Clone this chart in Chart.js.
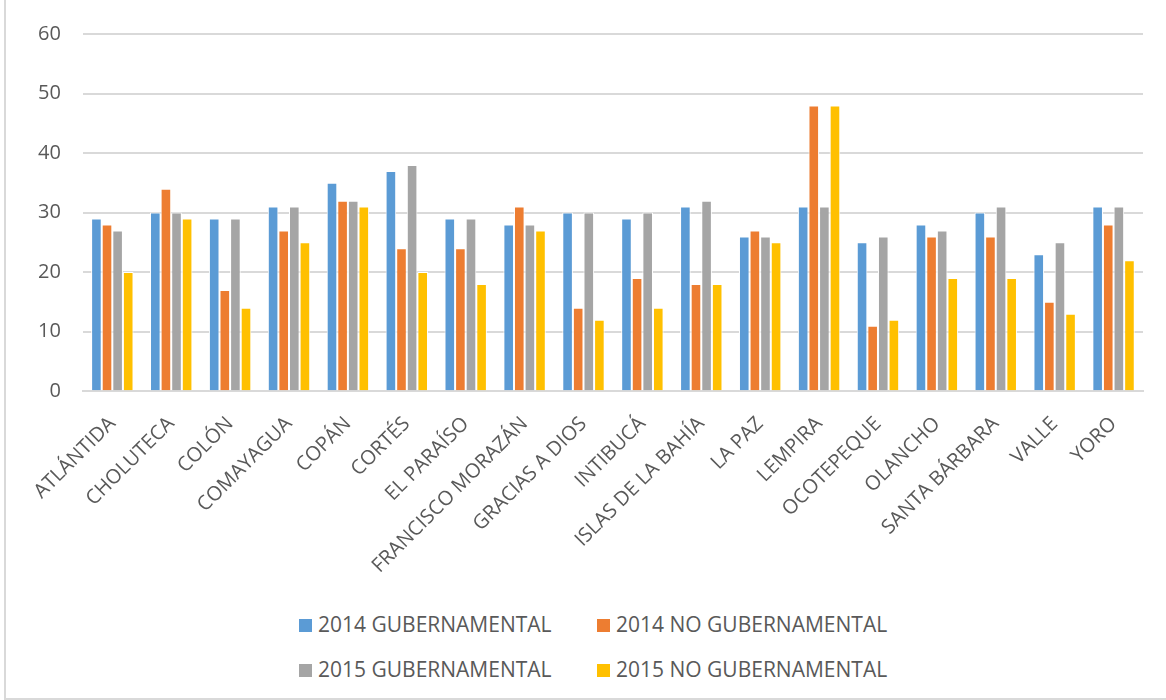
<!DOCTYPE html>
<html lang="es">
<head>
<meta charset="utf-8">
<title>Gubernamental / No gubernamental por departamento</title>
<script src="https://cdn.jsdelivr.net/npm/chart.js@4/dist/chart.umd.min.js"></script>
<style>
    html, body { margin: 0; padding: 0; background: #fff; }
    .chart-box {
        position: absolute;
        left: 4px;
        top: 0;
        width: 1160px;
        height: 698px;
        border-left: 2px solid #d9d9d9;
        border-bottom: 2px solid #d9d9d9;
        font-family: "Open Sans", sans-serif;
    }
    .chart-container { position: absolute; left: 0; top: 0; width: 1160px; height: 599px; }
    .legend {
        position: absolute;
        left: 293px;
        top: 609px;
        display: grid;
        grid-template-columns: 298px 340px;
        row-gap: 15px;
        color: #595959;
        font-size: 21px;
        line-height: 30px;
        white-space: nowrap;
    }
    .legend span.box {
        display: inline-block;
        width: 13px;
        height: 13px;
        margin-right: 6px;
        vertical-align: 0px;
    }
</style>
</head>
<body>
<div class="chart-box">
    <div class="chart-container"><canvas id="grafico"></canvas></div>
    <div class="legend" id="leyenda"></div>
</div>
<script>
// Departamentos
const departamentos = [
    'ATLÁNTIDA', 'CHOLUTECA', 'COLÓN', 'COMAYAGUA', 'COPÁN', 'CORTÉS',
    'EL PARAÍSO', 'FRANCISCO MORAZÁN', 'GRACIAS A DIOS', 'INTIBUCÁ',
    'ISLAS DE LA BAHÍA', 'LA PAZ', 'LEMPIRA', 'OCOTEPEQUE', 'OLANCHO',
    'SANTA BÁRBARA', 'VALLE', 'YORO'
];

// Series
const gub2014   = [29, 30, 29, 31, 35, 37, 29, 28, 30, 29, 31, 26, 31, 25, 28, 30, 23, 31];
const noGub2014 = [28, 34, 17, 27, 32, 24, 24, 31, 14, 19, 18, 27, 48, 11, 26, 26, 15, 28];
const gub2015   = [27, 30, 29, 31, 32, 38, 29, 28, 30, 30, 32, 26, 31, 26, 27, 31, 25, 31];
const noGub2015 = [20, 29, 14, 25, 31, 20, 18, 27, 12, 14, 18, 25, 48, 12, 19, 19, 13, 22];

const nombresSeries = ['2014 GUBERNAMENTAL', '2014 NO GUBERNAMENTAL', '2015 GUBERNAMENTAL', '2015 NO GUBERNAMENTAL'];
const coloresSeries = ['#5b9bd5', '#ed7d31', '#a5a5a5', '#ffc000'];

// Eje Y
const ejeMin = 0;
const ejeMax = 60;
const ejePaso = 10;

const valores = [gub2014, noGub2014, gub2015, noGub2015];

const datasets = valores.map((serie, i) => ({
    label: nombresSeries[i],
    data: serie,
    backgroundColor: coloresSeries[i],
    borderColor: '#ffffff',
    borderWidth: 1,
    borderSkipped: 'bottom',
    barPercentage: 1,
    categoryPercentage: 0.72
}));

const grafico = new Chart(document.getElementById('grafico'), {
    type: 'bar',
    data: { labels: departamentos, datasets: datasets },
    options: {
        responsive: true,
        maintainAspectRatio: false,
        animation: false,
        layout: { padding: { left: 10, right: 23, top: 19, bottom: 0 } },
        plugins: {
            legend: { display: false },
            tooltip: { enabled: false }
        },
        scales: {
            x: {
                grid: { display: false, drawTicks: false },
                border: { color: '#d9d9d9', width: 2 },
                ticks: {
                    color: '#595959',
                    font: { family: 'Open Sans', size: 20 },
                    minRotation: 45,
                    maxRotation: 45,
                    autoSkip: false,
                    padding: 21
                }
            },
            y: {
                min: ejeMin,
                max: ejeMax,
                grid: { color: '#d9d9d9', lineWidth: 2, drawTicks: false },
                border: { display: false },
                ticks: {
                    stepSize: ejePaso,
                    color: '#595959',
                    font: { family: 'Open Sans', size: 20 },
                    padding: 22
                }
            }
        }
    }
});

// Leyenda en dos columnas
const leyenda = document.getElementById('leyenda');
grafico.data.datasets.forEach(ds => {
    const item = document.createElement('div');
    item.innerHTML = `<span class="box" style="background:${ds.backgroundColor}"></span>${ds.label}`;
    leyenda.appendChild(item);
});
</script>
</body>
</html>
